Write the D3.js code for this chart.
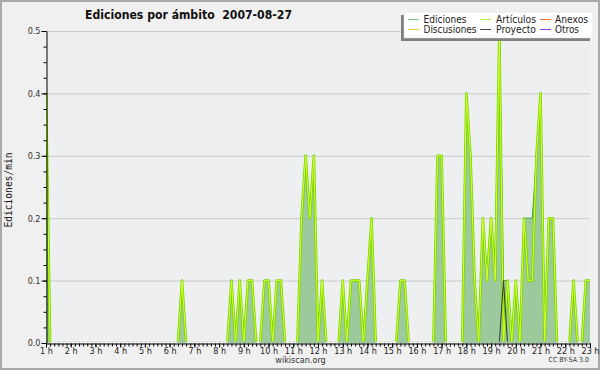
<!DOCTYPE html>
<html><head><meta charset="utf-8">
<script src="https://cdn.jsdelivr.net/npm/d3@7"></script>
<style>body{margin:0;background:#f0f0f0}svg{display:block}</style>
</head><body><svg id="c" width="600" height="370"></svg>
<script>
// 10-minute bins starting at 1:00
const startMinute = 60, stepMinutes = 10;
const ediciones = [
0.4,0,0,0,0,0,0,0,0,0,
0,0,0,0,0,0,0,0,0,0,
0,0,0,0,0,0,0,0,0,0,
0,0,0,0.1,0,0,0,0,0,0,
0,0,0,0,0,0.1,0,0.1,0,0.1,
0.1,0,0,0.1,0.1,0,0.1,0.1,0,0,
0,0,0.2,0.3,0.2,0.3,0,0.1,0,0,
0,0,0.1,0,0.1,0.1,0.1,0,0.1,0.2,
0,0,0,0,0,0,0.1,0.1,0,0,
0,0,0,0,0,0.3,0.3,0,0,0,
0,0,0.4,0.3,0.1,0,0.2,0.1,0.2,0.1,
0.5,0.1,0.1,0,0.1,0,0.2,0.2,0.2,0.3,
0.4,0,0.2,0.2,0,0,0,0,0.1,0,
0,0.1,0.1];
const articulos = [
0.4,0,0,0,0,0,0,0,0,0,
0,0,0,0,0,0,0,0,0,0,
0,0,0,0,0,0,0,0,0,0,
0,0,0,0.1,0,0,0,0,0,0,
0,0,0,0,0,0.1,0,0.1,0,0.1,
0.1,0,0,0.1,0.1,0,0.1,0.1,0,0,
0,0,0.2,0.3,0.2,0.3,0,0.1,0,0,
0,0,0.1,0,0.1,0.1,0.1,0,0.1,0.2,
0,0,0,0,0,0,0.1,0.1,0,0,
0,0,0,0,0,0.3,0.3,0,0,0,
0,0,0.4,0.3,0.1,0,0.2,0.1,0.2,0.1,
0.5,0,0.1,0,0.1,0,0.2,0.1,0.1,0.3,
0.4,0,0.2,0.2,0,0,0,0,0.1,0,
0,0.1,0.1];
const proyecto = [
0,0,0,0,0,0,0,0,0,0,
0,0,0,0,0,0,0,0,0,0,
0,0,0,0,0,0,0,0,0,0,
0,0,0,0,0,0,0,0,0,0,
0,0,0,0,0,0,0,0,0,0,
0,0,0,0,0,0,0,0,0,0,
0,0,0,0,0,0,0,0,0,0,
0,0,0,0,0,0,0,0,0,0,
0,0,0,0,0,0,0,0,0,0,
0,0,0,0,0,0,0,0,0,0,
0,0,0,0,0,0,0,0,0,0,
0,0.1,0,0,0,0,0,0,0,0,
0,0,0,0,0,0,0,0,0,0,
0,0,0];
const hourValues = [1,2,3,4,5,6,7,8,9,10,11,12,13,14,15,16,17,18,19,20,21,22,23];
const hourLabels = ["1 h","2 h","3 h","4 h","5 h","6 h","7 h","8 h","9 h","10 h","11 h","12 h","13 h","14 h","15 h","16 h","17 h","18 h","19 h","20 h","21 h","22 h","23 h"];
const yTickValues = [0,0.1,0.2,0.3,0.4,0.5];
const yTickLabels = ["0.0","0.1","0.2","0.3","0.4","0.5"];
const legendNames = ["Ediciones","Discusiones","Artículos","Proyecto","Anexos","Otros"];
const legendColors = ["#7cc87c","#f5c83a","#b8ee40","#444444","#ee7a48","#9040e6"];
const legendWidths = [43,53,40,40,33,24];

const svg = d3.select("#c");
const W = 600, H = 370;
const L = 46, R = 590, T = 31, B = 343;
const cond = "'DejaVu Sans Condensed','DejaVu Sans',sans-serif";

svg.append("rect").attr("x",1).attr("y",1).attr("width",W-2).attr("height",H-2)
  .attr("fill","#f0f0f0").attr("stroke","#a9a9a9").attr("stroke-width",2);
svg.append("rect").attr("x",L).attr("y",T).attr("width",R-L).attr("height",B-T).attr("fill","#eeeff1");

const x = d3.scaleLinear().domain([60, 1380]).range([L, R]);
const y = d3.scaleLinear().domain([0, 0.5]).range([B, T]);
const tOf = i => startMinute + stepMinutes * i;

// grid
svg.append("g").selectAll("line").data(yTickValues.slice(1)).join("line")
  .attr("x1",L).attr("x2",R).attr("y1",d=>y(d)+0.5).attr("y2",d=>y(d)+0.5)
  .attr("stroke","#c9c9c9").attr("stroke-width",1);

svg.append("clipPath").attr("id","clipA").append("rect")
  .attr("x",L).attr("y",T-5).attr("width",R-L).attr("height",B-T+5);
svg.append("clipPath").attr("id","clipL").append("rect")
  .attr("x",L).attr("y",T-5).attr("width",R-L).attr("height",B-T+5-1.6);
const plotA = svg.append("g").attr("clip-path","url(#clipA)");
const plot = svg.append("g").attr("clip-path","url(#clipL)");

const area = d3.area().x((d,i)=>x(tOf(i))).y0(y(0)).y1(d=>y(d));
const line = d3.line().x((d,i)=>x(tOf(i))).y(d=>y(d));

plotA.append("path").datum(ediciones).attr("d",area).attr("fill","#9dca9d");
plot.append("path").datum(ediciones).attr("d",line).attr("fill","none")
  .attr("stroke","#3f9a3f").attr("stroke-width",1);
plot.append("path").datum(articulos).attr("d",line).attr("fill","none")
  .attr("stroke","#78d600").attr("stroke-width",2.6).attr("stroke-linejoin","round");
plot.append("path").datum(articulos).attr("d",line).attr("fill","none")
  .attr("stroke","#d6ff30").attr("stroke-width",1).attr("stroke-linejoin","round");
plot.append("path").datum(proyecto).attr("d",line).attr("fill","none")
  .attr("stroke","#333333").attr("stroke-width",1);

// y axis
const yMinor = svg.append("g").attr("transform",`translate(${L+0.5},0)`)
  .call(d3.axisLeft(y).tickValues(d3.range(0,0.5001,0.025)).tickSize(3).tickFormat("").tickSizeOuter(0));
yMinor.select(".domain").remove();
const yMajor = svg.append("g").attr("transform",`translate(${L+0.5},0)`)
  .call(d3.axisLeft(y).tickValues(yTickValues).tickSize(5).tickPadding(1)
    .tickFormat((d,i)=>yTickLabels[i]).tickSizeOuter(0));
yMajor.selectAll("text").attr("font-family",cond).attr("font-stretch","condensed")
  .attr("font-size",9).attr("fill","#333");
yMajor.select(".domain").attr("stroke","#000");

// x axis
const xMinor = svg.append("g").attr("transform",`translate(0,${B+0.5})`)
  .call(d3.axisBottom(x).tickValues(d3.range(60,1381,10)).tickSize(3).tickFormat("").tickSizeOuter(0));
xMinor.select(".domain").remove();
const xMajor = svg.append("g").attr("transform",`translate(0,${B+0.5})`)
  .call(d3.axisBottom(x).tickValues(hourValues.map(h=>h*60)).tickSize(4).tickPadding(0)
    .tickFormat((d,i)=>hourLabels[i]).tickSizeOuter(0));
xMajor.selectAll("text").attr("font-family",cond).attr("font-stretch","condensed")
  .attr("font-size",9).attr("fill","#222");
xMajor.select(".domain").attr("stroke","#000");

// titles
svg.append("text").attr("x",85).attr("y",19).attr("font-family",cond).attr("font-stretch","condensed")
  .attr("font-weight","bold").attr("font-size",13).attr("fill","#111")
  .attr("textLength",207).attr("lengthAdjust","spacingAndGlyphs")
  .attr("xml:space","preserve").text("Ediciones por ámbito  2007-08-27");
svg.append("text").attr("transform","translate(12,190) rotate(-90)").attr("text-anchor","middle")
  .attr("font-family","'DejaVu Sans Mono',monospace").attr("font-size",9.6).attr("fill","#111")
  .text("Ediciones/min");
svg.append("text").attr("x",300.5).attr("y",363).attr("text-anchor","middle")
  .attr("font-family",cond).attr("font-stretch","condensed").attr("font-size",9).attr("fill","#333")
  .text("wikiscan.org");
svg.append("text").attr("x",589).attr("y",362).attr("text-anchor","end")
  .attr("font-family",cond).attr("font-stretch","condensed").attr("font-size",7).attr("fill","#333")
  .text("CC BY-SA 3.0");

// legend
const lg = svg.append("g");
lg.append("rect").attr("x",401).attr("y",15).attr("width",189).attr("height",26).attr("fill","#808080");
lg.append("rect").attr("x",404).attr("y",12).attr("width",189).attr("height",26).attr("fill","#fff")
  .attr("stroke","#dcdcdc").attr("stroke-width",0.5);
const colX = [408,480,540], textX = [423.5,496,555], rowY = [19,29];
legendNames.forEach((n,i)=>{
  const c = Math.floor(i/2), r = i%2;
  lg.append("line").attr("x1",colX[c]).attr("x2",colX[c]+11).attr("y1",rowY[r]+0.5).attr("y2",rowY[r]+0.5)
    .attr("stroke",legendColors[i]).attr("stroke-width",1);
  lg.append("text").attr("x",textX[c]).attr("y",rowY[r]+3.5).attr("font-family",cond)
    .attr("font-stretch","condensed").attr("font-size",10).attr("fill","#222")
    .attr("textLength",legendWidths[i]).attr("lengthAdjust","spacingAndGlyphs").text(n);
});
</script></body></html>
